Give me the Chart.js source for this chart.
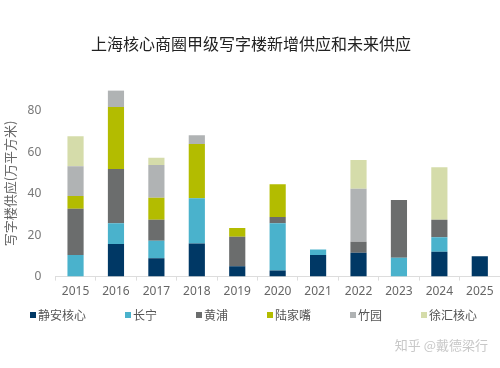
<!DOCTYPE html>
<html>
<head>
<meta charset="utf-8">
<script src="https://cdn.jsdelivr.net/npm/chart.js@4/dist/chart.umd.min.js"></script>
<style>
  body { margin: 0; background: #fff; }
  #wrap { position: relative; width: 500px; height: 368px; }
  #legend {
    position: absolute; left: 30px; top: 306px;
    display: flex; gap: 39px;
    font: 12px "Noto Sans CJK SC", sans-serif; color: #555;
  }
  #legend span.item { display: flex; align-items: center; white-space: nowrap; }
  #legend span.box { display: inline-block; width: 6px; height: 6px; margin-right: 2px; }
  #mark {
    position: absolute; right: 12px; top: 335px;
    font: 13px "Noto Sans CJK SC", sans-serif; color: #c8c8c8;
  }
</style>
</head>
<body>
<div id="wrap">
  <canvas id="chart" width="500" height="368"></canvas>
  <div id="legend"></div>
  <div id="mark">知乎 @戴德梁行</div>
</div>
<script>
// 年份
const years = ['2015', '2016', '2017', '2018', '2019', '2020', '2021', '2022', '2023', '2024', '2025'];

// 各商圈供应量 (万平方米)
const jingan   = [0,    15.7, 8.8,  16,   5,    3,    10.4, 11.5, 0,    12,   9.8];
const changning = [10.4, 10.1, 8.5,  21.8, 0,    22.8, 2.7,  0,    9.1,  7,    0];
const huangpu  = [22.4, 26.2, 10.1, 0,    14.2, 3,    0,    5.3,  27.9, 8.4,  0];
const lujiazui = [6.1,  29.9, 10.7, 26.2, 4.3,  15.8, 0,    0,    0,    0,    0];
const zhuyuan  = [14.4, 7.9,  15.8, 4.2,  0,    0,    0,    25.6, 0,    0,    0];
const xuhui    = [14.5, 0,    3.5,  0,    0,    0,    0,    13.9, 0,    25.4, 0];

const yTicks = [0, 20, 40, 60, 80];

const cjk = '"Noto Sans CJK SC", sans-serif';
const num = '"Noto Sans", "Noto Sans CJK SC", sans-serif';

const series = [
  { label: '静安核心', data: jingan,    color: '#003865' },
  { label: '长宁',     data: changning, color: '#4ab2cc' },
  { label: '黄浦',     data: huangpu,   color: '#6b6d6d' },
  { label: '陆家嘴',   data: lujiazui,  color: '#b3bc00' },
  { label: '竹园',     data: zhuyuan,   color: '#b0b3b4' },
  { label: '徐汇核心', data: xuhui,     color: '#d5dcaa' }
];

// legend in html, spacing like the original
const legendEl = document.getElementById('legend');
series.forEach(s => {
  const item = document.createElement('span');
  item.className = 'item';
  item.innerHTML = `<span class="box" style="background:${s.color}"></span>${s.label}`;
  legendEl.appendChild(item);
});

new Chart(document.getElementById('chart'), {
  type: 'bar',
  data: {
    labels: years,
    datasets: series.map(s => ({
      label: s.label,
      data: s.data,
      backgroundColor: s.color,
      borderWidth: 0,
      barPercentage: 0.8,
      categoryPercentage: 0.5
    }))
  },
  options: {
    responsive: false,
    devicePixelRatio: 1,
    animation: false,
    layout: { padding: { left: 2, right: 0, bottom: 65 } },
    plugins: {
      title: {
        display: true,
        text: '上海核心商圈甲级写字楼新增供应和未来供应',
        color: '#222',
        font: { family: cjk, size: 16, weight: 'normal' },
        padding: { top: 34, bottom: 37 }
      },
      legend: { display: false },
      tooltip: { enabled: false }
    },
    scales: {
      x: {
        stacked: true,
        offset: true,
        grid: {
          display: true,
          drawOnChartArea: false,
          offset: true,
          tickLength: 4,
          color: '#dddddd'
        },
        border: { color: '#dddddd' },
        ticks: {
          padding: 4,
          color: '#666',
          font: { family: num, size: 12 }
        }
      },
      y: {
        stacked: true,
        min: 0,
        max: 90,
        grid: { display: false },
        border: { display: false },
        afterBuildTicks: axis => {
          axis.ticks = yTicks.map(v => ({ value: v }));
        },
        ticks: {
          padding: 6,
          color: '#777',
          font: { family: num, size: 12 }
        },
        title: {
          display: true,
          text: '写字楼供应(万平方米)',
          color: '#666',
          font: { family: cjk, size: 13 },
          padding: { top: 0, bottom: 4 }
        }
      }
    }
  }
});
</script>
</body>
</html>
